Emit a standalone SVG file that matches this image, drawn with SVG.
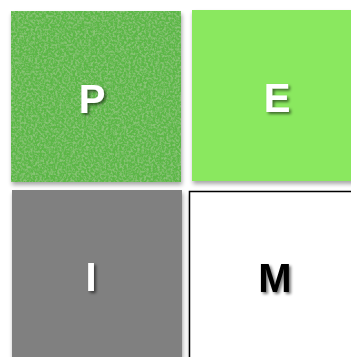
<svg xmlns="http://www.w3.org/2000/svg" width="351" height="357" viewBox="0 0 351 357">
  <defs>
    <filter id="boxShadow" x="-10%" y="-10%" width="125%" height="125%">
      <feGaussianBlur in="SourceAlpha" stdDeviation="2"/>
      <feOffset dx="1" dy="3" result="b"/>
      <feComponentTransfer><feFuncA type="linear" slope="0.35"/></feComponentTransfer>
      <feMerge><feMergeNode/><feMergeNode in="SourceGraphic"/></feMerge>
    </filter>
    <filter id="textShadow" x="-30%" y="-30%" width="180%" height="180%">
      <feGaussianBlur in="SourceAlpha" stdDeviation="1.5"/>
      <feOffset dx="2" dy="2"/>
      <feComponentTransfer><feFuncA type="linear" slope="0.55"/></feComponentTransfer>
      <feMerge><feMergeNode/><feMergeNode in="SourceGraphic"/></feMerge>
    </filter>
    <filter id="grain" x="0" y="0" width="100%" height="100%">
      <feTurbulence type="fractalNoise" baseFrequency="0.45" numOctaves="3" seed="3" result="n"/>
      <feColorMatrix in="n" type="matrix" values="0 0 0 0 0.25  0 0 0 0 0.55  0 0 0 0 0.18  3 0 0 0 -1.2" result="spots"/>
      <feComposite in="spots" in2="SourceGraphic" operator="in" result="s2"/>
      <feMerge><feMergeNode in="SourceGraphic"/><feMergeNode in="s2"/></feMerge>
    </filter>
  </defs>
  <style>
    .lbl { font-family: "Liberation Sans", Arial, sans-serif; font-weight: bold; font-size: 40px; text-anchor: middle; }
    .w { fill: #ffffff; }
    .k { fill: #000000; }
  </style>
  <rect width="351" height="357" fill="#ffffff"/>
  <g id="node-P">
    <g filter="url(#boxShadow)">
      <rect x="11" y="11" width="170" height="171" fill="#5cb747" filter="url(#grain)"/>
    </g>
    <text class="lbl w" x="92" y="113" filter="url(#textShadow)">P</text>
  </g>
  <g id="node-E">
    <rect x="192" y="10" width="170" height="171" fill="#8ae85e" filter="url(#boxShadow)"/>
    <text class="lbl w" x="277" y="112" filter="url(#textShadow)">E</text>
  </g>
  <g id="node-I">
    <rect x="12" y="190" width="170" height="175" fill="#808080" filter="url(#boxShadow)"/>
    <text class="lbl w" x="91" y="291" filter="url(#textShadow)">I</text>
  </g>
  <g id="node-M">
    <rect x="189.5" y="191.5" width="175" height="175" fill="#ffffff" stroke="#000000" stroke-width="1.5" filter="url(#boxShadow)"/>
    <text class="lbl k" x="275" y="292" filter="url(#textShadow)">M</text>
  </g>
  <g id="connectors"/>
</svg>
